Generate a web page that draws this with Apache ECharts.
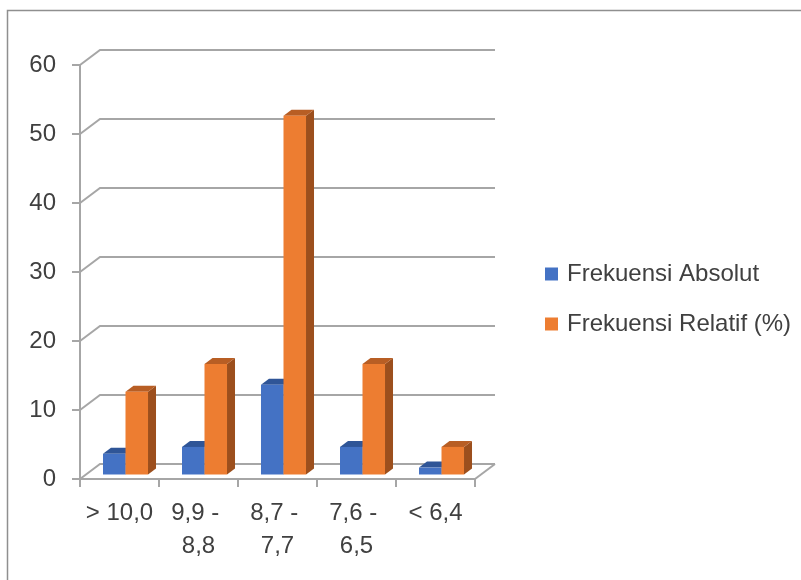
<!DOCTYPE html>
<html>
<head>
<meta charset="utf-8">
<script src="https://cdn.jsdelivr.net/npm/echarts@6/dist/echarts.min.js"></script>
<style>
  html, body { margin: 0; padding: 0; background: #fff; }
  #chart { width: 801px; height: 580px; }
</style>
</head>
<body>
<div id="chart"></div>
<script>
// Score classes and their frequencies
const categories = ['> 10,0', '9,9 - 8,8', '8,7 - 7,7', '7,6 - 6,5', '< 6,4'];
const frekuensiAbsolut = [3, 4, 13, 4, 1];
const frekuensiRelatif = [12, 16, 52, 16, 4];
const yTicks = [0, 10, 20, 30, 40, 50, 60];

// Depth vector of the pseudo-3D box (back wall offset from the front plane)
const DEPTH_X = 20, DEPTH_Y = -15;
const GRID_COLOR = '#a6a6a6';
const TEXT_COLOR = '#404040';
const FONT = 'Liberation Sans';

function wallLines(params, api) {
  const cs = params.coordSys;
  const v = api.value(1);
  const y = api.coord([0, v])[1];
  const children = [{
    type: 'polyline',
    shape: { points: [[cs.x, y], [cs.x + DEPTH_X, y + DEPTH_Y], [cs.x + cs.width + DEPTH_X, y + DEPTH_Y]] },
    style: { stroke: GRID_COLOR, lineWidth: 2, fill: null }
  }];
  if (v === 0) {
    // right edge of the floor
    children.push({
      type: 'line',
      shape: { x1: cs.x + cs.width, y1: y, x2: cs.x + cs.width + DEPTH_X, y2: y + DEPTH_Y },
      style: { stroke: GRID_COLOR, lineWidth: 2 }
    });
  }
  return { type: 'group', children };
}

function bar3d(slot, face, side, top) {
  return function (params, api) {
    const i = api.value(0), v = api.value(1);
    const band = api.size([1, 0])[0];
    const w = band * 0.285;
    const base = api.coord([i, 0]);
    const peak = api.coord([i, v]);
    const fx = DEPTH_X * 0.3, fy = DEPTH_Y * 0.3;
    const dx = DEPTH_X * 0.4, dy = DEPTH_Y * 0.4;
    const x0 = base[0] - w + slot * w + fx;
    const x1 = x0 + w;
    const yb = base[1] + fy;
    const yt = peak[1] + fy;
    return {
      type: 'group',
      children: [
        { type: 'polygon', shape: { points: [[x1, yb], [x1 + dx, yb + dy], [x1 + dx, yt + dy], [x1, yt]] }, style: { fill: side } },
        { type: 'polygon', shape: { points: [[x0, yt], [x1, yt], [x1 + dx, yt + dy], [x0 + dx, yt + dy]] }, style: { fill: top } },
        { type: 'rect', shape: { x: x0, y: yt, width: w, height: yb - yt }, style: { fill: face } }
      ]
    };
  };
}

const chart = echarts.init(document.getElementById('chart'), null, { renderer: 'canvas' });
chart.setOption({
  animation: false,
  backgroundColor: '#fff',
  textStyle: { fontFamily: FONT },
  graphic: [{
    type: 'polyline',
    shape: { points: [[7.5, 580], [7.5, 10.5], [801, 10.5]] },
    style: { stroke: '#8f8f8f', lineWidth: 1.5, fill: null },
    silent: true
  }],
  grid: { left: 80, right: 326, top: 65, bottom: 101, containLabel: false },
  legend: {
    data: ['Frekuensi Absolut', 'Frekuensi Relatif (%)'],
    orient: 'vertical',
    left: 540,
    top: 254,
    icon: 'rect',
    itemWidth: 13,
    itemHeight: 13,
    itemGap: 20,
    textStyle: { fontSize: 24, color: TEXT_COLOR, fontFamily: FONT, lineHeight: 30, padding: [0, 0, 0, 4] }
  },
  xAxis: {
    type: 'category',
    data: categories,
    axisLine: { show: true, lineStyle: { color: GRID_COLOR, width: 2 } },
    axisTick: { show: true, length: 8, alignWithLabel: false, lineStyle: { color: GRID_COLOR, width: 2 } },
    axisLabel: {
      interval: 0,
      margin: 18,
      fontSize: 24,
      lineHeight: 33,
      color: TEXT_COLOR,
      fontFamily: FONT,
      formatter: v => v.replace(' - ', ' - \n')
    },
    splitLine: { show: false }
  },
  yAxis: {
    type: 'value',
    min: 0,
    max: 60,
    interval: 10,
    axisLine: { show: true, lineStyle: { color: GRID_COLOR, width: 2 } },
    axisTick: { show: true, length: 8, lineStyle: { color: GRID_COLOR, width: 2 } },
    axisLabel: { margin: 24, fontSize: 24, color: TEXT_COLOR, fontFamily: FONT },
    splitLine: { show: false }
  },
  series: [
    {
      name: 'walls',
      type: 'custom',
      silent: true,
      z: 1,
      renderItem: wallLines,
      data: yTicks.map(v => [0, v]),
      encode: { x: 0, y: 1 }
    },
    {
      name: 'Frekuensi Absolut',
      type: 'custom',
      z: 3,
      itemStyle: { color: '#4472C4' },
      renderItem: bar3d(0, '#4472C4', '#2D4F8E', '#2F5597'),
      data: frekuensiAbsolut.map((v, i) => [i, v]),
      encode: { x: 0, y: 1 }
    },
    {
      name: 'Frekuensi Relatif (%)',
      type: 'custom',
      z: 4,
      itemStyle: { color: '#ED7D31' },
      renderItem: bar3d(1, '#ED7D31', '#9C4F1D', '#B85E24'),
      data: frekuensiRelatif.map((v, i) => [i, v]),
      encode: { x: 0, y: 1 }
    }
  ]
});
</script>
</body>
</html>
